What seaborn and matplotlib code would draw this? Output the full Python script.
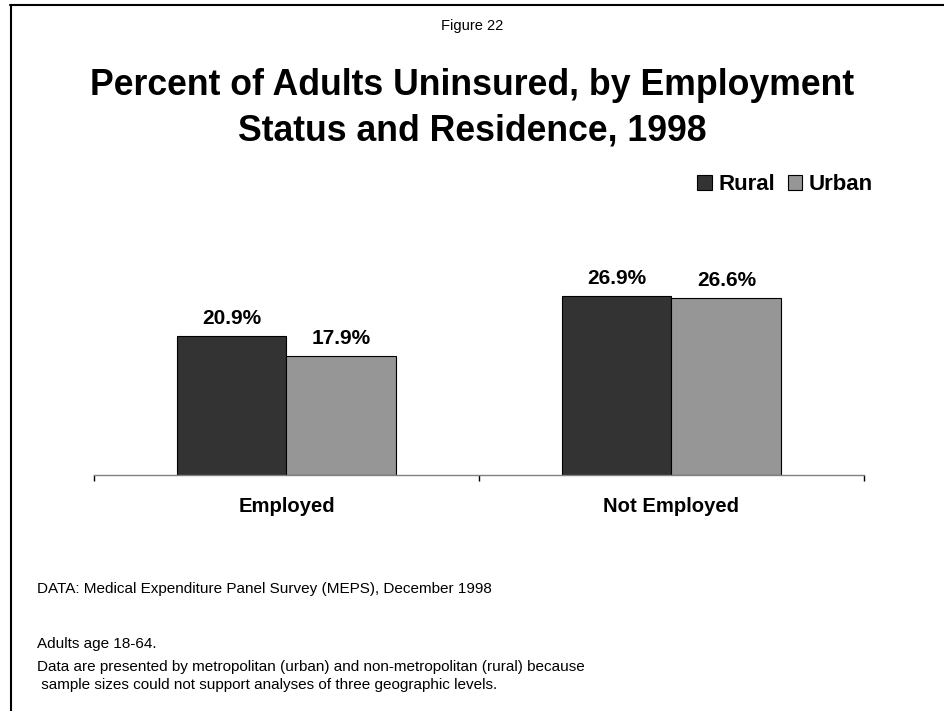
import matplotlib
matplotlib.use("Agg")
import matplotlib.pyplot as plt
import seaborn as sns
import pandas as pd
from matplotlib.lines import Line2D

# Data
categories = ["Employed", "Not Employed"]
residence = ["Rural", "Urban"]
rural_pct = [20.9, 26.9]
urban_pct = [17.9, 26.6]
bar_colors = ["#333333", "#969696"]

df = pd.DataFrame({
    "status": categories * 2,
    "residence": [residence[0]] * 2 + [residence[1]] * 2,
    "pct": rural_pct + urban_pct,
})

sns.set_theme(style="white")
plt.rcParams["font.family"] = ["Liberation Sans", "DejaVu Sans"]
plt.rcParams["text.color"] = "black"
plt.rcParams["xtick.color"] = "black"
plt.rcParams["xtick.labelcolor"] = "black"

W, H = 945, 711
fig = plt.figure(figsize=(W / 100, H / 100), dpi=100)
fig.patch.set_facecolor("white")

# plot area in pixel terms: baseline at y=475, x from 94 to 864
ax = fig.add_axes([94 / W, (H - 475) / H, (864 - 94) / W, 300 / H])
sns.barplot(
    data=df, x="status", y="pct", hue="residence",
    order=categories, hue_order=residence, palette=bar_colors,
    width=0.571, saturation=1, edgecolor="black", linewidth=0.8,
    errorbar=None, ax=ax,
)

ax.set_ylim(0, 45)
ax.set_xlim(-0.5, 1.5)
ax.set_yticks([])
ax.set_xlabel("")
ax.set_ylabel("")
for side in ("left", "right", "top"):
    ax.spines[side].set_visible(False)
ax.spines["bottom"].set_color("#808080")
ax.spines["bottom"].set_linewidth(1.0)
ax.set_facecolor("none")

ax.set_xticks([0, 1])
ax.set_xticklabels(categories, fontsize=14.6, fontweight="bold", color="black")
ax.tick_params(axis="x", which="major", length=0, pad=16)
ax.set_xticks([-0.5, 0.5, 1.5], minor=True)
ax.tick_params(axis="x", which="minor", length=4, width=1, color="black",
               direction="out", bottom=True)

# value labels above each bar
for container in ax.containers:
    for bar in container:
        h = bar.get_height()
        ax.annotate(f"{h:.1f}%", (bar.get_x() + bar.get_width() / 2, h),
                    xytext=(0, 8.6), textcoords="offset points",
                    ha="center", va="baseline", fontsize=15,
                    fontweight="bold", color="black")

# legend in the upper right
handles, labels = ax.get_legend_handles_labels()
leg = ax.legend(handles, labels, ncol=2, loc="center right",
                bbox_to_anchor=(873 / W, 1 - 185 / H), bbox_transform=fig.transFigure,
                frameon=False, prop={"size": 16, "weight": "bold"},
                handlelength=0.66, handleheight=0.66, handletextpad=0.3,
                columnspacing=0.55, borderpad=0, borderaxespad=0)
for t in leg.get_texts():
    t.set_color("black")

# titles
fig.text(0.5, 1 - 30 / H, "Figure 22", ha="center", va="baseline", fontsize=10.5)
fig.text(0.5, 1 - 95 / H, "Percent of Adults Uninsured, by Employment",
         ha="center", va="baseline", fontsize=25.7, fontweight="bold")
fig.text(0.5, 1 - 140 / H, "Status and Residence, 1998",
         ha="center", va="baseline", fontsize=25.7, fontweight="bold")

# notes
notes = [
    (593, "DATA: Medical Expenditure Panel Survey (MEPS), December 1998"),
    (648, "Adults age 18-64."),
    (671, "Data are presented by metropolitan (urban) and non-metropolitan (rural) because"),
    (689, " sample sizes could not support analyses of three geographic levels."),
]
for y, txt in notes:
    fig.text(37 / W, 1 - y / H, txt, ha="left", va="baseline", fontsize=11)

# page frame (left and top edges)
fig.add_artist(Line2D([10.5 / W, 10.5 / W], [0, 1 - 4.5 / H], color="black",
                      lw=1.5, transform=fig.transFigure))
fig.add_artist(Line2D([10 / W, 1], [1 - 5 / H, 1 - 5 / H], color="black",
                      lw=1.5, transform=fig.transFigure))

fig.savefig("out.png", dpi=100)
